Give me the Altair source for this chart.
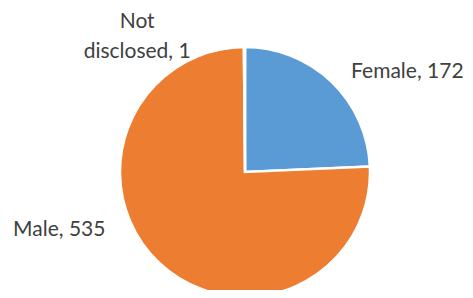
import altair as alt
import pandas as pd

categories = ["Female", "Male", "Not disclosed"]
values = [172, 535, 1]
labels = ["Female, 172", "Male, 535", "Not\ndisclosed, 1"]
colors = ["#5B9BD5", "#ED7D31", "#A5A5A5"]

df = pd.DataFrame({
    "category": categories,
    "value": values,
    "label": labels,
    "order": list(range(len(categories))),
})

CX, CY, R = 237, 164, 125

pie = alt.Chart(df).mark_arc(stroke="white", strokeWidth=2.5).encode(
    theta=alt.Theta("value:Q", stack=True),
    order=alt.Order("order:Q"),
    x=alt.value(CX),
    y=alt.value(CY),
    radius=alt.value(R),
    color=alt.Color("category:N", scale=alt.Scale(domain=categories, range=colors), legend=None),
)

offsets = {"Female": (31, 37), "Male": (-55, -80), "Not disclosed": (-107, 40)}

text_layers = []
for cat in categories:
    dx, dy = offsets[cat]
    t = alt.Chart(df).transform_window(
        cum="sum(value)", sort=[alt.SortField("order")], frame=[None, 0]
    ).transform_calculate(
        mid="datum.cum - datum.value / 2"
    ).transform_filter(
        alt.datum.category == cat
    ).mark_text(
        font="Lato", fontSize=21, color="#404040", align="center", baseline="middle",
        lineBreak="\n", lineHeight=30, dx=dx, dy=dy,
    ).encode(
        theta=alt.Theta("mid:Q", stack=None),
        x=alt.value(CX),
        y=alt.value(CY),
        radius=alt.value(190),
        text="label:N",
    )
    text_layers.append(t)

chart = alt.layer(pie, *text_layers).properties(
    width=457, height=282, padding=0, autosize=alt.AutoSizeParams(type="none")
).configure_view(stroke=None)

chart.save("out.html", embed_options={"renderer": "svg", "actions": False})
